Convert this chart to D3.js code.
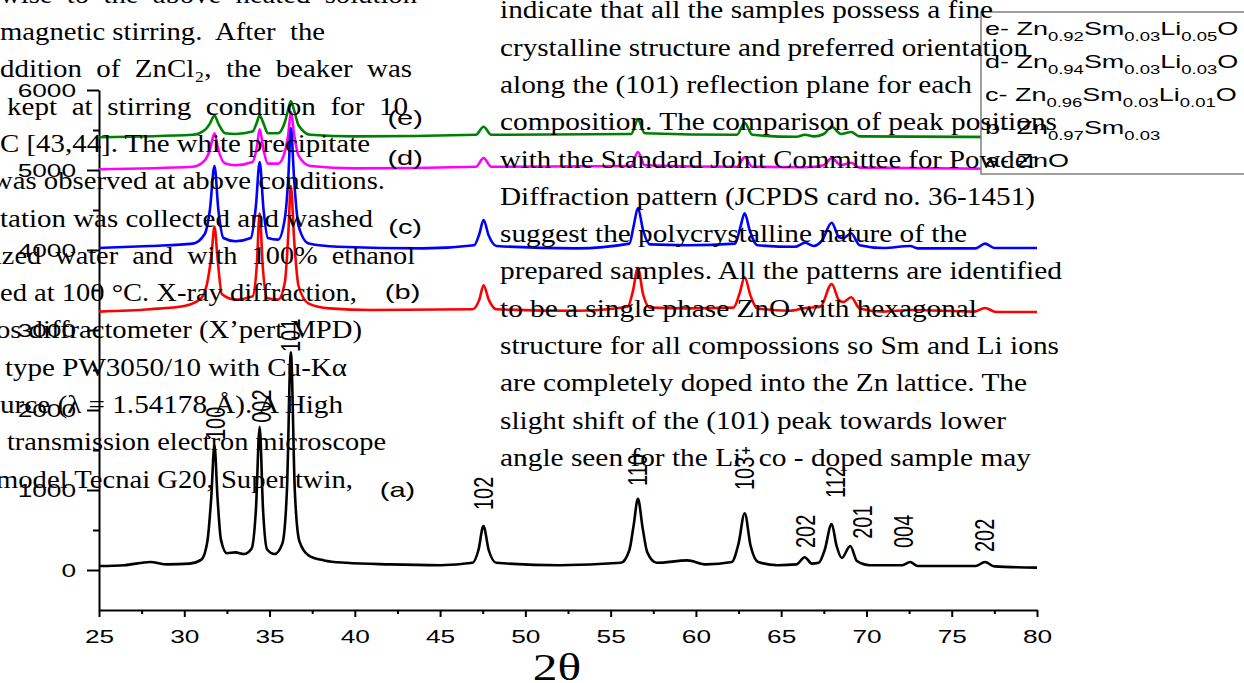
<!DOCTYPE html>
<html>
<head>
<meta charset="utf-8">
<script src="https://cdn.jsdelivr.net/npm/d3@7"></script>
<style>
body { margin: 0; background: #fff; overflow: hidden; }
svg { display: block; }
.sans { font-family: "Liberation Sans", Arial, sans-serif; fill: #000; }
.bodyText { font-family: "Liberation Serif", "Times New Roman", serif; font-size: 26px; fill: #000; white-space: pre; }
</style>
</head>
<body>
<svg class="XrdChart" width="1244" height="683"></svg>
<script>
// 2theta, intensity (a.u.), stacked offsets included
var seriesA = [[25,50],[26.5,60],[28,100],[29,70],[30.3,80],[31.0,130],[31.35,350],[31.58,900],[31.77,1560],[31.95,900],[32.15,380],[32.5,210],[33.0,220],[33.5,200],[33.95,270],[34.2,750],[34.42,1790],[34.62,750],[34.85,260],[35.3,200],[35.75,330],[36.02,1000],[36.25,2720],[36.48,1000],[36.75,360],[37.3,180],[38.2,120],[39.5,90],[42,70],[45,60],[46.9,90],[47.25,250],[47.54,550],[47.85,250],[48.3,90],[52,60],[55.6,90],[56.1,250],[56.35,560],[56.6,890],[56.88,520],[57.15,220],[57.7,90],[59.5,120],[60.6,70],[62.1,100],[62.5,330],[62.86,710],[63.2,310],[63.65,100],[64.8,60],[65.9,70],[66.38,160],[66.8,80],[67.2,90],[67.55,250],[67.96,575],[68.25,300],[68.55,150],[69.05,300],[69.45,110],[70.2,60],[72.1,60],[72.56,100],[73.0,50],[76.4,50],[76.95,100],[77.5,45],[80,30]];
var seriesB = [[25,3230],[28,3260],[30,3300],[31.0,3400],[31.4,3650],[31.6,3950],[31.77,4290],[31.95,3900],[32.2,3450],[33.0,3380],[34.0,3420],[34.25,3800],[34.42,4460],[34.6,3800],[34.85,3400],[35.5,3380],[35.9,3600],[36.1,4200],[36.25,4800],[36.45,4100],[36.7,3550],[37.3,3330],[38.5,3270],[41,3250],[46.9,3260],[47.3,3380],[47.55,3560],[47.85,3380],[48.3,3260],[53,3240],[56.0,3290],[56.3,3480],[56.6,3775],[56.9,3450],[57.3,3280],[59.5,3270],[62.2,3280],[62.55,3450],[62.86,3660],[63.2,3430],[63.6,3270],[65.5,3240],[66.4,3275],[67.3,3290],[67.96,3575],[68.4,3370],[68.65,3350],[69.1,3410],[69.6,3270],[71,3230],[72.56,3250],[76.3,3230],[76.95,3275],[77.6,3225],[80,3225]];
var seriesC = [[25,4025],[28,4050],[30.5,4080],[31.2,4200],[31.5,4500],[31.77,5050],[32.0,4500],[32.3,4150],[33,4110],[33.9,4150],[34.2,4550],[34.42,5100],[34.65,4500],[34.9,4150],[35.5,4130],[35.9,4400],[36.1,4900],[36.25,5525],[36.45,4850],[36.7,4300],[37.3,4080],[39,4040],[44,4020],[47.0,4060],[47.3,4200],[47.55,4375],[47.85,4180],[48.3,4050],[53,4020],[56.1,4080],[56.35,4300],[56.6,4525],[56.9,4250],[57.3,4070],[59.5,4060],[62.3,4080],[62.6,4280],[62.86,4460],[63.15,4250],[63.6,4060],[65.8,4040],[66.4,4090],[66.9,4050],[67.4,4120],[67.96,4340],[68.4,4160],[68.65,4150],[69.1,4210],[69.6,4060],[71,4025],[72.56,4050],[73,4020],[76.4,4020],[76.95,4080],[77.5,4025],[80,4025]];
var seriesD = [[25,5010],[30.5,5040],[31.2,5120],[31.5,5250],[31.77,5460],[32.0,5250],[32.4,5080],[33,5060],[34,5100],[34.25,5280],[34.42,5510],[34.65,5250],[34.9,5080],[35.5,5080],[35.9,5230],[36.1,5450],[36.25,5725],[36.45,5430],[36.7,5180],[37.4,5050],[40,5020],[47.1,5040],[47.55,5150],[48.0,5040],[56.2,5050],[56.6,5225],[57.0,5060],[62.4,5040],[62.86,5160],[63.3,5040],[66.4,5035],[67.5,5060],[67.96,5150],[68.5,5060],[69.1,5090],[69.6,5030],[80,5010]];
var seriesE = [[25,5410],[30.5,5440],[31.2,5500],[31.5,5580],[31.77,5680],[32.0,5580],[32.4,5460],[33,5450],[34,5480],[34.25,5590],[34.42,5680],[34.65,5580],[34.9,5460],[35.5,5460],[35.9,5600],[36.1,5760],[36.25,5860],[36.45,5740],[36.7,5560],[37.4,5440],[40,5420],[47.1,5440],[47.55,5540],[48.0,5440],[56.2,5450],[56.6,5625],[57.0,5460],[62.4,5440],[62.86,5590],[63.3,5440],[65.9,5415],[66.4,5440],[66.9,5420],[67.5,5450],[67.96,5540],[68.5,5450],[69.1,5475],[69.6,5420],[80,5410]];

var seriesNames = ["(a)", "(b)", "(c)", "(d)", "(e)"];
var seriesNamePos = [[42.5,1010],[42.8,3475],[42.95,4290],[42.95,5150],[42.95,5650]];
var seriesColors = ["#000000", "#ff0000", "#0000ff", "#ff00ff", "#008000"];

var peakLabels = ["100", "002", "101", "102", "110", "103", "202", "112", "201", "004", "202"];
var peakLabelTheta = [31.85, 34.55, 36.2, 47.55, 56.6, 62.85, 66.4, 68.2, 69.75, 72.2, 76.95];
var peakLabelBase = [1625, 1840, 2725, 750, 1050, 1000, 275, 900, 390, 275, 225];

var xTicks = [25, 30, 35, 40, 45, 50, 55, 60, 65, 70, 75, 80];
var yTicks = [0, 1000, 2000, 3000, 4000, 5000, 6000];

var legendRows = [
    ["e- Zn", "0.92", "Sm", "0.03", "Li", "0.05", "O"],
    ["d- Zn", "0.94", "Sm", "0.03", "Li", "0.03", "O"],
    ["c- Zn", "0.96", "Sm", "0.03", "Li", "0.01", "O"],
    ["b- Zn", "0.97", "Sm", "0.03"],
    ["a- ZnO"]
];

// page text that sits over the figure
var leftLines = [
    "wise  to  the  above  heated  solution",
    "magnetic stirring.  After  the",
    "ddition  of  ZnCl\u2082,  the  beaker  was",
    "kept  at  stirring  condition  for  10",
    "C [43,44]. The white precipitate",
    "was observed at above conditions.",
    "tation was collected and washed",
    "ized  water  and  with  100%  ethanol",
    "ed at 100 \u00B0C. X-ray diffraction,",
    "os diffractometer (X\u2019pert MPD)",
    "type PW3050/10 with Cu-K\u03B1",
    "urce (\u03BB = 1.54178 \u00C5). A High",
    "transmission electron microscope",
    "model Tecnai G20, Super twin,"
];
var rightLines = [
    "indicate that all the samples possess a fine",
    "crystalline structure and preferred orientation",
    "along the (101) reflection plane for each",
    "composition. The comparison of peak positions",
    "with the Standard Joint Committee for Powder",
    "Diffraction pattern (JCPDS card no. 36-1451)",
    "suggest the polycrystalline nature of the",
    "prepared samples. All the patterns are identified",
    "to be a single phase ZnO with hexagonal",
    "structure for all compossions so Sm and Li ions",
    "are completely doped into the Zn lattice. The",
    "slight shift of the (101) peak towards lower",
    "angle seen for the Li\u207A co - doped sample may"
];

function renderXrd()
{
    var svg = d3.select(".XrdChart");
    var stretch = 1.38;

    const x = d3.scaleLinear().domain([25, 80]).range([99, 1037]);
    const y = d3.scaleLinear().domain([-500, 6000]).range([610, 90]);

    // axes
    var yAxis = svg.append('g').attr('transform', 'translate(99,0)')
        .call(d3.axisLeft(y).tickValues(yTicks).tickFormat(d3.format('d')).tickSize(12).tickSizeOuter(0));
    yAxis.selectAll('.tick text')
        .attr('class', 'sans').attr('x', null).attr('dy', '0.35em')
        .attr('font-size', 19)
        .attr('transform', `translate(-23,0) scale(${stretch},1)`);
    svg.append('g').attr('transform', 'translate(99,0)')
        .call(d3.axisLeft(y).tickValues(d3.range(500, 6000, 1000)).tickSize(6).tickFormat(''))
        .call(g => g.select('.domain').remove());

    var xAxis = svg.append('g').attr('transform', 'translate(0,610)')
        .call(d3.axisBottom(x).tickValues(xTicks).tickFormat(d3.format('d')).tickSize(7).tickSizeOuter(0));
    xAxis.selectAll('.tick text')
        .attr('class', 'sans').attr('y', null).attr('dy', null)
        .attr('font-size', 19).attr('text-anchor', 'middle')
        .attr('transform', `translate(0,33) scale(${stretch},1)`);
    svg.append('g').attr('transform', 'translate(0,610)')
        .call(d3.axisBottom(x).tickValues(d3.range(27.5, 80, 5)).tickSize(4).tickFormat(''))
        .call(g => g.select('.domain').remove());

    svg.selectAll('.domain, .tick line').attr('stroke', '#000').attr('stroke-width', 2);

    svg.append('text')
        .attr('class', 'bodyText')
        .style('font-size', '38px')
        .attr('text-anchor', 'middle')
        .attr('transform', `translate(557,680) scale(1.3,1)`)
        .text('2\u03B8');

    // patterns, top one first so the lower ones sit over it
    var allSeries = [seriesA, seriesB, seriesC, seriesD, seriesE];
    var line = d3.line()
        .x(d => x(d[0]))
        .y(d => y(d[1]))
        .curve(d3.curveMonotoneX);
    for (var i = allSeries.length - 1; i >= 0; i--) {
        svg.append('path')
            .datum(allSeries[i])
            .attr('d', line)
            .attr('fill', 'none')
            .attr('stroke', seriesColors[i])
            .attr('stroke-width', 2.6)
            .attr('stroke-linejoin', 'round');
    }

    svg.selectAll('.seriesName')
        .data(seriesNames)
        .enter()
        .append('text')
        .attr('class', 'sans seriesName')
        .attr('font-size', 21)
        .attr('text-anchor', 'middle')
        .attr('dy', '0.35em')
        .attr('transform', (d, i) => `translate(${x(seriesNamePos[i][0])},${y(seriesNamePos[i][1])}) scale(${stretch},1)`)
        .text(d => d);

    svg.selectAll('.peakLabel')
        .data(peakLabels)
        .enter()
        .append('text')
        .attr('class', 'sans peakLabel')
        .attr('font-size', 20)
        .attr('transform', (d, i) => `translate(${x(peakLabelTheta[i]) + 9.5},${y(peakLabelBase[i])}) scale(${stretch},1) rotate(-90)`)
        .text(d => d);

    // legend
    svg.append('rect')
        .attr('x', 981).attr('y', 12)
        .attr('width', 300).attr('height', 162)
        .attr('fill', '#fff')
        .attr('stroke', '#808080')
        .attr('stroke-width', 1.5);
    legendRows.forEach(function(parts, r) {
        var t = svg.append('text')
            .attr('class', 'sans')
            .attr('font-size', 19)
            .attr('transform', `translate(985,${35 + r * 33}) scale(1.42,1)`);
        parts.forEach(function(p, k) {
            var sub = k % 2 == 1;
            t.append('tspan')
                .attr('font-size', sub ? 13 : 19)
                .attr('dy', k == 0 ? 0 : (sub ? 6 : -6))
                .text(p);
        });
    });

    // overlaid page text
    var leftStart = [0, 0, 0, 7, 0, -8, 0, -6, 0, -4, 5, 0, 7, -4];
    var leftEnd = [417, 325, 412, 408, 370, 385, 373, 415, 357, 362, 347, 343, 386, 353];
    var rightEnd = [993, 1028, 972, 1057, 1037, 1035, 967, 1062, 977, 1059, 1027, 1006, 1031];

    svg.selectAll('.leftLine')
        .data(leftLines)
        .enter()
        .append('text')
        .attr('class', 'bodyText leftLine')
        .attr('x', (d, i) => leftStart[i])
        .attr('y', (d, i) => 2.7 + i * 37.3)
        .attr('textLength', (d, i) => leftEnd[i] - leftStart[i])
        .attr('lengthAdjust', 'spacingAndGlyphs')
        .text(d => d);

    svg.selectAll('.rightLine')
        .data(rightLines)
        .enter()
        .append('text')
        .attr('class', 'bodyText rightLine')
        .attr('x', 500)
        .attr('y', (d, i) => 18.3 + i * 37.3)
        .attr('textLength', (d, i) => rightEnd[i] - 500)
        .attr('lengthAdjust', 'spacingAndGlyphs')
        .text(d => d);
}

renderXrd();
</script>
</body>
</html>
